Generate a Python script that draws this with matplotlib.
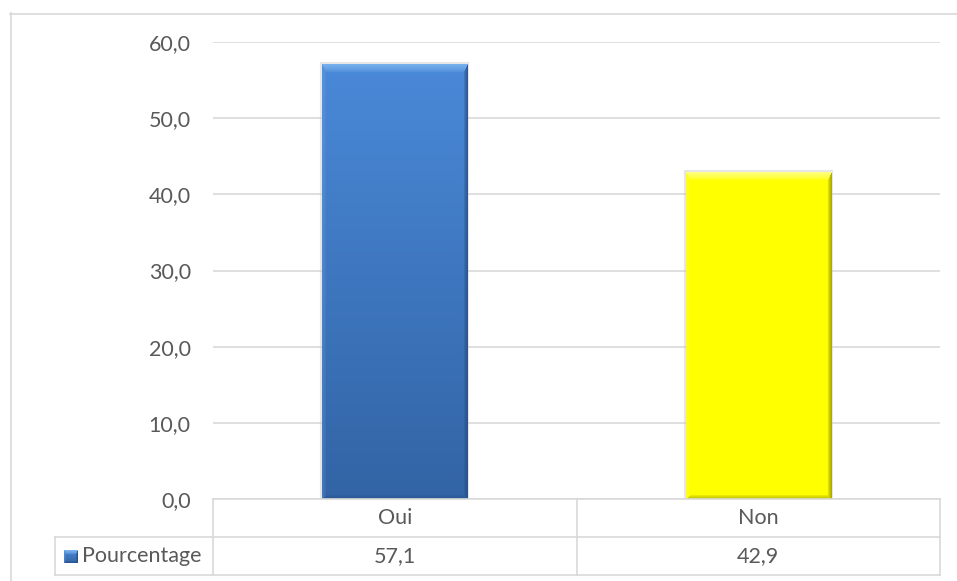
import numpy as np
import matplotlib.pyplot as plt
from matplotlib.lines import Line2D
from matplotlib.patches import Rectangle

# data
categories = ["Oui", "Non"]
values = [57.1, 42.9]
series_name = "Pourcentage"
yticks = [0, 10, 20, 30, 40, 50, 60]

# colours (top, bottom) for the bar gradients, plus bevel light / dark tints
bar_colors = [((74, 137, 216), (50, 100, 165)), ((255, 255, 0), (255, 255, 0))]
bevel_light = [(125, 180, 240), (255, 255, 140)]
bevel_dark = [(38, 78, 135), (150, 150, 0)]

W, H = 957, 581
plt.rcParams['font.family'] = ['Lato', 'DejaVu Sans']
TXT = "#595959"
GRID = "#d9d9d9"
FS = 15.5

fig = plt.figure(figsize=(W / 100, H / 100), dpi=100)
ax = fig.add_axes([213 / W, 82 / H, 727 / W, 457 / H])
ax.set_xlim(-0.5, len(categories) - 0.5)
ax.set_ylim(0, 60)

for s in ax.spines.values():
    s.set_visible(False)
ax.set_xticks([])
ax.set_yticks(yticks)
ax.set_yticklabels([f"{t:.1f}".replace(".", ",") for t in yticks], color=TXT, fontsize=FS)
ax.tick_params(axis="y", length=0, pad=16)
ax.yaxis.grid(True, color=GRID, lw=1.2)
ax.set_axisbelow(True)

bars = ax.bar(range(len(categories)), values, width=0.4, color="none", zorder=2)


def bevel_image(w, h, top, bottom, light, dark, bev=(8, 4, 4, 4)):
    """RGB image for a bar: vertical gradient with bevelled edges (top, left, right, bottom)."""
    rows = np.arange(h)[:, None] * np.ones((1, w))
    cols = np.ones((h, 1)) * np.arange(w)[None, :]
    t = rows / max(h - 1, 1)
    top, bottom = np.array(top) / 255, np.array(bottom) / 255
    light, dark = np.array(light) / 255, np.array(dark) / 255
    img = top[None, None, :] * (1 - t[..., None]) + bottom[None, None, :] * t[..., None]
    d = np.stack([rows / bev[0], cols / bev[1], (w - 1 - cols) / bev[2], (h - 1 - rows) / bev[3]])
    side = np.argmin(d, axis=0)
    dmin = np.min(d, axis=0)
    a = np.clip(1 - dmin, 0, 1)[..., None] ** 0.7
    tint = {0: (light, 0.9), 1: (light, 0.25), 2: (dark, 0.8), 3: (dark, 0.55)}
    for k, (col, strength) in tint.items():
        m = (side == k)[..., None]
        img = np.where(m, img * (1 - a * strength) + col * a * strength, img)
    return np.clip(img, 0, 1)


fig.canvas.draw()
for i, bar in enumerate(bars):
    x0, y0 = bar.get_x(), bar.get_y()
    bw, bh = bar.get_width(), bar.get_height()
    p0 = ax.transData.transform((x0, y0))
    p1 = ax.transData.transform((x0 + bw, y0 + bh))
    pw, ph = int(round(p1[0] - p0[0])), int(round(p1[1] - p0[1]))
    # soft shadow
    ax.add_patch(Rectangle((x0, y0), bw, bh, facecolor="none", edgecolor="#c8c8c8",
                           lw=3, alpha=0.45, zorder=1.5))
    img = bevel_image(pw, ph, bar_colors[i][0], bar_colors[i][1], bevel_light[i], bevel_dark[i])
    ax.imshow(img, extent=(x0, x0 + bw, y0, y0 + bh), aspect="auto", zorder=2,
              interpolation="bilinear", origin="upper")

ax.set_xlim(-0.5, len(categories) - 0.5)
ax.set_ylim(0, 60)

# data table below the axes
rh = 38 / 457
left = (55 - 213) / 727
lkw = dict(color=GRID, lw=1.2, clip_on=False, transform=ax.transAxes)
ncat = len(categories)
ax.add_line(Line2D([0, 1], [0, 0], **lkw))
ax.add_line(Line2D([left, 1], [-rh, -rh], **lkw))
ax.add_line(Line2D([left, 1], [-2 * rh, -2 * rh], **lkw))
ax.add_line(Line2D([left, left], [-rh, -2 * rh], **lkw))
for i in range(ncat + 1):
    ax.add_line(Line2D([i / ncat, i / ncat], [0, -2 * rh], **lkw))
for i, (c, v) in enumerate(zip(categories, values)):
    xc = (i + 0.5) / ncat
    ax.text(xc, -rh / 2, c, ha="center", va="center", color=TXT, fontsize=FS,
            transform=ax.transAxes)
    ax.text(xc, -1.5 * rh, f"{v:.1f}".replace(".", ","), ha="center", va="center",
            color=TXT, fontsize=FS, transform=ax.transAxes)

# legend key + series name
key_img = bevel_image(13, 13, bar_colors[0][0], bar_colors[0][1], bevel_light[0],
                      bevel_dark[0], bev=(4, 2, 2, 2))
kax = fig.add_axes([64 / W, (581 - 563) / H, 13 / W, 13 / H])
kax.imshow(key_img, aspect="auto", interpolation="nearest")
kax.axis("off")
ax.text((82 - 213) / 727, -1.5 * rh, series_name, ha="left", va="center", color=TXT,
        fontsize=FS, transform=ax.transAxes)

# outer chart border
bkw = dict(color=GRID, lw=1.2, transform=fig.transFigure)
fig.add_artist(Line2D([10.5 / W, 10.5 / W], [0, 1 - 13 / H], **bkw))
fig.add_artist(Line2D([10 / W, 1], [1 - 13.5 / H, 1 - 13.5 / H], **bkw))

fig.savefig("out.png", dpi=100)
